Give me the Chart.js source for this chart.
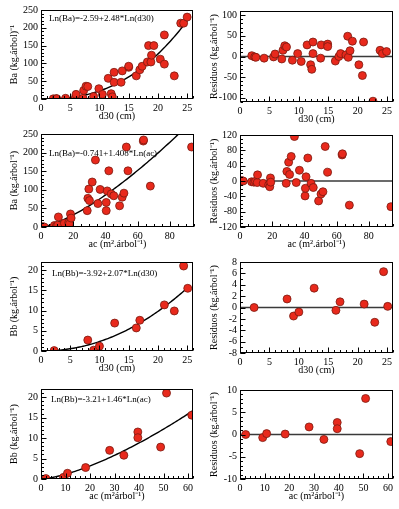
<!DOCTYPE html>
<html>
<head>
<meta charset="utf-8">
<script src="https://cdn.jsdelivr.net/npm/chart.js@4.4.1/dist/chart.umd.min.js"></script>
<style>
  html, body { margin: 0; padding: 0; background: #fff; }
  body { width: 399px; height: 509px; position: relative; overflow: hidden; }
  canvas { position: absolute; }
</style>
</head>
<body>
<canvas id="c1"></canvas>
<canvas id="c2"></canvas>
<canvas id="c3"></canvas>
<canvas id="c4"></canvas>
<canvas id="c5"></canvas>
<canvas id="c6"></canvas>
<canvas id="c7"></canvas>
<canvas id="c8"></canvas>
<script>
// ---------------- DATA ----------------
// Panel 1: Ba vs d30
const d30_Ba = [2.1,2.6,2.7,4.2,5.9,6.0,7.2,7.3,7.7,8.0,9.0,9.9,10.5,11.5,12.0,12.2,12.5,12.5,13.7,13.9,15.0,15.0,16.3,16.9,17.3,18.2,18.4,18.8,18.9,19.3,20.4,21.1,21.1,22.8,23.9,24.4,25.0];
const Ba_d30 = [0.5,1,1,2,5,13,2,24,36,35,7,29,13,58,15,6,47,75,47,79,89,92,65,82,92,104,150,104,123,150,112,98,180,65,213,213,230];
const fit_Ba_d30 = [-2.59, 2.48];
// Panel 2: residuals Ba vs d30
const d30_resBa = [2.0,2.5,2.7,4.1,5.7,5.96,7.1,7.3,7.6,7.9,8.9,9.8,10.4,11.4,12.0,12.2,12.4,12.4,13.7,13.8,14.9,14.9,16.2,16.8,17.1,18.0,18.3,18.4,18.7,19.1,20.2,20.8,21.0,22.6,23.8,24.2,24.9];
const resBa_d30 = [2,-1,-2,-4,-1,6,-6,15,26,23,-9,7,-12,28,-20,-31,7,35,-4,28,30,24,-11,0,7,4,49,-2,14,37,-20,-46,35,-108,15,7,12];
// Panel 3: Ba vs ac
const ac_Ba = [1.0,2.0,8.3,9.5,10.4,10.8,14.5,17.2,17.6,18.3,18.7,28.7,29.1,29.7,30.1,31.8,33.8,35.3,36.7,40.5,40.5,41.1,42.1,43.6,45.2,48.8,50.4,51.5,53.0,54.0,63.5,63.7,67.9,93.5];
const Ba_ac = [1,0,4,2,5,27,10,12,8,35,24,44,77,102,71,121,180,63,101,44,66,97,151,89,84,57,80,91,215,151,231,234,110,215];
const fit_Ba_ac = [-0.741, 1.408];
// Panel 4: residuals Ba vs ac
const ac_resBa = [1.0,2.0,7.2,8.6,9.6,10.7,10.9,14.4,17.8,18.5,18.9,19.1,28.7,29.1,30.2,30.8,31.8,33.8,34.9,36.9,40.4,40.6,41.0,42.1,44.1,45.5,48.8,50.3,51.5,52.9,54.4,63.4,63.6,67.9,93.7];
const resBa_ac = [1,0,-2,-3,-1,-4,16,-6,-10,-15,8,-3,-6,25,49,17,64,116,-4,28,-39,-19,11,60,-6,-17,-52,-34,-28,90,23,68,71,-63,-67];
// Panel 5: Bb vs d30
const d30_Bb = [2.25,8.0,9.0,10.0,12.6,16.3,16.9,21.1,22.8,24.4,25.1];
const Bb_d30 = [0.1,2.7,0.2,1.2,6.9,5.7,7.6,11.4,9.9,21.0,15.5];
const fit_Bb_d30 = [-3.92, 2.07];
// Panel 6: residuals Bb vs d30
const d30_resBb = [2.4,8.0,9.1,10.0,12.6,16.3,17.0,21.1,22.9,24.4,25.1];
const resBb_d30 = [0,1.5,-1.5,-0.8,3.4,-0.5,1.0,0.6,-2.6,6.3,0.2];
// Panel 7: Bb vs ac
const ac_Bb = [2.0,9.2,10.8,18.2,28.0,33.8,39.5,39.5,48.8,51.2,61.5];
const Bb_ac = [0.1,0.4,1.4,2.8,7.0,5.8,11.5,10.1,7.8,21.0,15.6];
const fit_Bb_ac = [-3.21, 1.46];
// Panel 8: residuals Bb vs ac
const ac_resBb = [2.3,9.2,10.8,18.3,28.0,34.0,39.4,39.4,48.5,50.9,61.1];
const resBb_ac = [0,-0.7,0.2,0.1,1.7,-1.1,2.7,1.3,-4.3,8.1,-1.6];

// Texts
const eq1 = 'Ln(Ba)=-2.59+2.48*Ln(d30)';
const eq3 = 'Ln(Ba)=-0.741+1.408*Ln(ac)';
const eq5 = 'Ln(Bb)=-3.92+2.07*Ln(d30)';
const eq7 = 'Ln(Bb)=-3.21+1.46*Ln(ac)';
const tD30 = 'd30 (cm)';
const tAc = 'ac (m².árbol⁻¹)';
const tAc2 = 'ac (m²árbol⁻¹)';
const tBa1 = 'Ba (kg.árbol)⁻¹';
const tBa = 'Ba (kg.árbol⁻¹)';
const tBb = 'Bb (kg.árbol⁻¹)';
const tRes = 'Residuos (kg.árbol⁻¹)';

// ---------------- STYLE ----------------
const FONT = "'Liberation Serif', 'Times New Roman', serif";
Chart.defaults.font.family = FONT;
Chart.defaults.font.size = 10;
Chart.defaults.color = '#000';
const PT_FILL = '#e8291c';
const PT_EDGE = '#7a1a10';

const framePlugin = {
  id: 'frame',
  beforeDatasetsDraw(chart, args, opts) {
    if (!opts.eq) return;
    const {ctx, chartArea: a} = chart;
    ctx.save();
    ctx.font = `9px ${FONT}`;
    ctx.fillStyle = '#000';
    ctx.textBaseline = 'middle';
    ctx.textAlign = 'left';
    ctx.fillText(opts.eq, a.left + opts.eqDx, a.top + opts.eqDy);
    ctx.restore();
  },
  afterDraw(chart, args, opts) {
    const {ctx, chartArea: a, scales} = chart;
    ctx.save();
    ctx.strokeStyle = '#000';
    ctx.lineWidth = 1;
    const L = Math.round(a.left) + 0.5, T = Math.round(a.top) + 0.5;
    const R = Math.round(a.right) - 0.5, B = Math.round(a.bottom) - 0.5;
    ctx.strokeRect(L, T, R - L, B - T);
    const ticks = (scale, step, len, horiz) => {
      const i0 = Math.ceil(scale.min / step - 1e-9), i1 = Math.floor(scale.max / step + 1e-9);
      ctx.beginPath();
      for (let i = i0; i <= i1; i++) {
        const p = Math.round(scale.getPixelForValue(i * step)) + 0.5;
        if (horiz) { ctx.moveTo(p, B); ctx.lineTo(p, B - len); }
        else { ctx.moveTo(L, p); ctx.lineTo(L + len, p); }
      }
      ctx.stroke();
    };
    ticks(scales.x, opts.xMinor, 2.5, true);
    ticks(scales.x, scales.x.options.ticks.stepSize, 5, true);
    ticks(scales.y, opts.yMinor, 2.5, false);
    ticks(scales.y, scales.y.options.ticks.stepSize, 5, false);
    ctx.restore();
  }
};

function fitCurve(coef, x0, x1) {
  const pts = [];
  const n = 80;
  for (let i = 0; i <= n; i++) {
    const x = x0 + (x1 - x0) * i / n;
    pts.push({x, y: Math.exp(coef[0]) * Math.pow(x, coef[1])});
  }
  return pts;
}

function makePanel(id, box, cfg) {
  const yW = box.L < 100 ? 41 : 40;
  const padTop = 8, padR = 6, xH = 26;
  const cv = document.getElementById(id);
  const w = yW + (box.R - box.L) + padR;
  const h = padTop + (box.B - box.T) + xH;
  cv.width = w; cv.height = h;
  cv.style.width = w + 'px'; cv.style.height = h + 'px';
  cv.style.left = (box.L - yW) + 'px';
  cv.style.top = (box.T - padTop) + 'px';

  const datasets = [{
    type: 'scatter',
    data: cfg.xs.map((x, i) => ({x, y: cfg.ys[i]})),
    backgroundColor: PT_FILL,
    borderColor: PT_EDGE,
    borderWidth: 0.8,
    pointRadius: 4,
    order: 0
  }];
  if (cfg.fit) {
    datasets.push({
      type: 'line',
      data: fitCurve(cfg.fit, cfg.fitFrom, cfg.fitTo),
      borderColor: '#000', borderWidth: 1.4, pointRadius: 0, fill: false, tension: 0, order: 1
    });
  }
  if (cfg.zero) {
    datasets.push({
      type: 'line',
      data: [{x: cfg.xMin, y: 0}, {x: cfg.xMax, y: 0}],
      borderColor: '#3a3a3a', borderWidth: 1.6, pointRadius: 0, fill: false, order: 1
    });
  }

  new Chart(cv, {
    type: 'scatter',
    data: {datasets},
    options: {
      responsive: false,
      animation: false,
      devicePixelRatio: 1,
      layout: {padding: {top: padTop, right: padR, left: 0, bottom: 0}},
      plugins: {
        legend: {display: false},
        tooltip: {enabled: false},
        frame: {xMinor: cfg.xMinor, yMinor: cfg.yMinor, eq: cfg.eq, eqDx: cfg.eqDx, eqDy: cfg.eqDy}
      },
      scales: {
        x: {
          type: 'linear', min: cfg.xMin, max: cfg.xMax,
          grid: {display: false, drawTicks: false},
          border: {display: false},
          ticks: {stepSize: cfg.xStep, includeBounds: false, maxRotation: 0, autoSkip: false, padding: 3, font: {size: 10}},
          title: {display: true, text: cfg.xTitle, font: {size: 10}, padding: {top: 0, bottom: 3}},
          afterFit: s => { s.height = xH; }
        },
        y: {
          type: 'linear', min: cfg.yMin, max: cfg.yMax,
          grid: {display: false, drawTicks: false},
          border: {display: false},
          ticks: {stepSize: cfg.yStep, includeBounds: false, autoSkip: false, padding: 3, font: {size: 10}},
          title: {display: true, text: cfg.yTitle, font: {size: 10}, padding: {top: 8, bottom: 2}},
          afterFit: s => { s.width = yW; }
        }
      }
    },
    plugins: [framePlugin]
  });
}

makePanel('c1', {L: 41, T: 9, R: 193, B: 99}, {
  xs: d30_Ba, ys: Ba_d30, xMin: 0, xMax: 26, xStep: 5, xMinor: 1, yMin: 0, yMax: 250, yStep: 50, yMinor: 10,
  xTitle: tD30, yTitle: tBa1, fit: fit_Ba_d30, fitFrom: 2, fitTo: 25, eq: eq1, eqDx: 8, eqDy: 9
});
makePanel('c2', {L: 240, T: 10, R: 393, B: 102}, {
  xs: d30_resBa, ys: resBa_d30, xMin: 0, xMax: 26, xStep: 5, xMinor: 1, yMin: -110, yMax: 110, yStep: 50, yMinor: 10,
  xTitle: tD30, yTitle: tRes, zero: true
});
makePanel('c3', {L: 41, T: 133, R: 194, B: 227}, {
  xs: ac_Ba, ys: Ba_ac, xMin: 0, xMax: 95, xStep: 20, xMinor: 5, yMin: 0, yMax: 250, yStep: 50, yMinor: 10,
  xTitle: tAc, yTitle: tBa, fit: fit_Ba_ac, fitFrom: 2, fitTo: 95, eq: eq3, eqDx: 8, eqDy: 20
});
makePanel('c4', {L: 240, T: 134, R: 393, B: 227}, {
  xs: ac_resBa, ys: resBa_ac, xMin: 0, xMax: 95, xStep: 20, xMinor: 5, yMin: -120, yMax: 120, yStep: 40, yMinor: 10,
  xTitle: tAc, yTitle: tRes, zero: true
});
makePanel('c5', {L: 41, T: 261, R: 193, B: 351}, {
  xs: d30_Bb, ys: Bb_d30, xMin: 0, xMax: 26, xStep: 5, xMinor: 1, yMin: 0, yMax: 22, yStep: 5, yMinor: 1,
  xTitle: tD30, yTitle: tBb, fit: fit_Bb_d30, fitFrom: 2.4, fitTo: 25, eq: eq5, eqDx: 11, eqDy: 12
});
makePanel('c6', {L: 240, T: 261, R: 393, B: 353}, {
  xs: d30_resBb, ys: resBb_d30, xMin: 0, xMax: 26, xStep: 5, xMinor: 1, yMin: -8, yMax: 8, yStep: 2, yMinor: 1,
  xTitle: tD30, yTitle: tRes, zero: true
});
makePanel('c7', {L: 41, T: 388, R: 193, B: 479}, {
  xs: ac_Bb, ys: Bb_ac, xMin: 0, xMax: 62, xStep: 10, xMinor: 2, yMin: 0, yMax: 22, yStep: 5, yMinor: 1,
  xTitle: tAc2, yTitle: tBb, fit: fit_Bb_ac, fitFrom: 2.8, fitTo: 62, eq: eq7, eqDx: 10, eqDy: 11
});
makePanel('c8', {L: 240, T: 389, R: 393, B: 479}, {
  xs: ac_resBb, ys: resBb_ac, xMin: 0, xMax: 62, xStep: 10, xMinor: 2, yMin: -10, yMax: 10, yStep: 5, yMinor: 1,
  xTitle: tAc2, yTitle: tRes, zero: true
});
</script>
</body>
</html>
